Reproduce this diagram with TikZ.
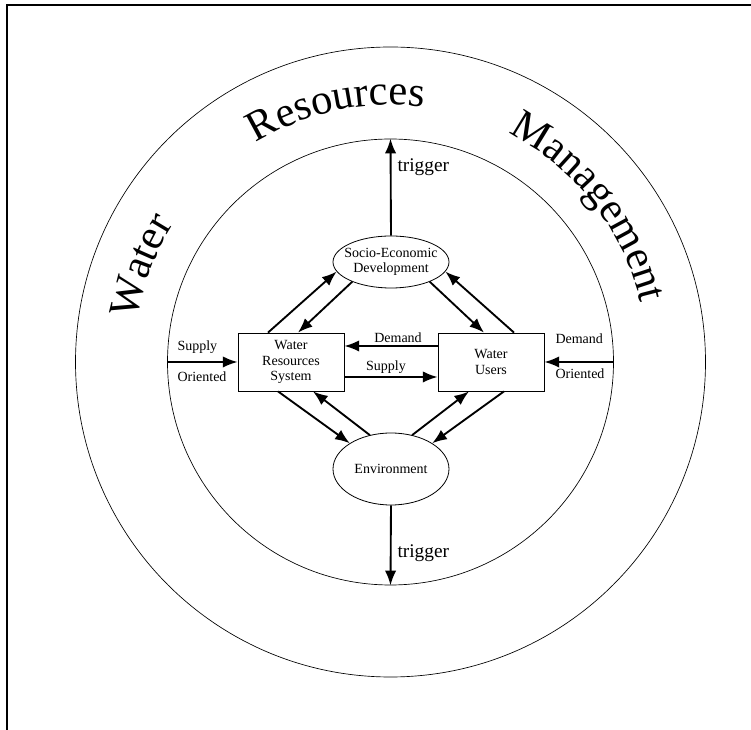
\documentclass[tikz,border=0pt]{standalone}
\usepackage{fontspec}
\setmainfont{Liberation Serif}
\usetikzlibrary{arrows.meta,calc,shapes.geometric,decorations.text}
\newcommand{\ringfont}{\fontsize{32}{36}\selectfont}
\tikzset{every picture/.style={line width=0.75pt}}
\tikzset{
  ring/.style={draw, circle, line width=0.5pt, inner sep=0pt},
  sysbox/.style={draw, rectangle, line width=0.6pt, minimum width=79.5pt, minimum height=43.5pt, inner sep=1pt, align=center, font=\fontsize{10.5}{11.5}\selectfont},
  blob/.style={draw, ellipse, line width=0.6pt, inner sep=0pt, minimum width=87pt},
  flow/.style={line width=1.4pt, -{Latex[length=11pt,width=8.5pt]}},
  lbl/.style={inner sep=0pt, font=\fontsize{10.5}{11.5}\selectfont},
  trig/.style={inner sep=0pt, font=\fontsize{14.5}{16}\selectfont},
  ringword/.style={decorate, decoration={text along path, text align=center, text format delimiters={|}{|}, text={#1}}}
}
\begin{document}
\begin{tikzpicture}[x=0.75pt,y=0.75pt,yscale=-1,xscale=1]
\useasboundingbox (0,0) rectangle (751,730);
% frame, only top and left edge are left
\draw [line width=1.5pt] (751,5) -- (7,5) -- (7,730);

\coordinate (ctr) at (390.5,362);
\node [ring, minimum size=472.5pt] (outer) at (ctr) {};
\node [ring, minimum size=334.5pt] (inner) at (ctr) {};

% words round the outer ring
\path [ringword={|\ringfont|Water}] ($(ctr)+(-194:257)$) arc [start angle=-194, end angle=-124, radius=257];
\path [ringword={|\ringfont|Resources}] ($(ctr)+(-137:257)$) arc [start angle=-137, end angle=-67, radius=257];
\path [ringword={|\ringfont|Management}] ($(ctr)+(-78:257)$) arc [start angle=-78, end angle=2, radius=257];

% the four parts
\node [sysbox] (wrs) at (291,362) {Water\\Resources\\System};
\node [sysbox] (wu) at (491,362) {Water\\Users};
\node [blob, minimum height=39pt] (soc) at (391,262) {};
\node [lbl, align=center] (soc-txt) at (soc) {Socio-Economic\\Development};
\node [blob, minimum height=54pt] (env) at (391,469) {};
\node [lbl] (env-txt) at (env) {Environment};

% links between them
\draw [flow] ($(wrs.north)+(-23,0)$) -- (soc.190);
\draw [flow] (soc.207) -- ($(wrs.north)+(7,0)$);
\draw [flow] (soc.333) -- ($(wu.north)+(-7,0)$);
\draw [flow] ($(wu.north)+(23,0)$) -- (soc.350);
\draw [flow] ($(wrs.south)+(-13,0)$) -- (env.148);
\draw [flow] (env.122) -- ($(wrs.south)+(22,0)$);
\draw [flow] (env.58) -- ($(wu.south)+(-22,0)$);
\draw [flow] ($(wu.south)+(13,0)$) -- (env.32);

\draw [flow] ($(wu.west)+(0,-16)$) -- ($(wrs.east)+(0,-16)$);
\draw [flow] ($(wrs.east)+(0,15)$) -- ($(wu.west)+(0,15)$);
\node [lbl] (dem-mid) at (398,338) {Demand};
\node [lbl] (sup-mid) at (386,367) {Supply};

% outside in
\draw [flow] (inner.west) -- (wrs.west);
\draw [flow] (inner.east) -- (wu.east);
\node [lbl, anchor=west] (sup-out) at (177,347) {Supply};
\node [lbl, anchor=west] (ori-left) at (177,377) {Oriented};
\node [lbl, anchor=west] (dem-out) at (555,339) {Demand};
\node [lbl, anchor=west] (ori-right) at (555,374) {Oriented};

% triggers
\draw [flow] (soc.north) -- (inner.north);
\draw [flow] (env.south) -- (inner.south);
\node [trig, anchor=west] (trig-up) at (397,167) {trigger};
\node [trig, anchor=west] (trig-down) at (397,553) {trigger};
\end{tikzpicture}
\end{document}
